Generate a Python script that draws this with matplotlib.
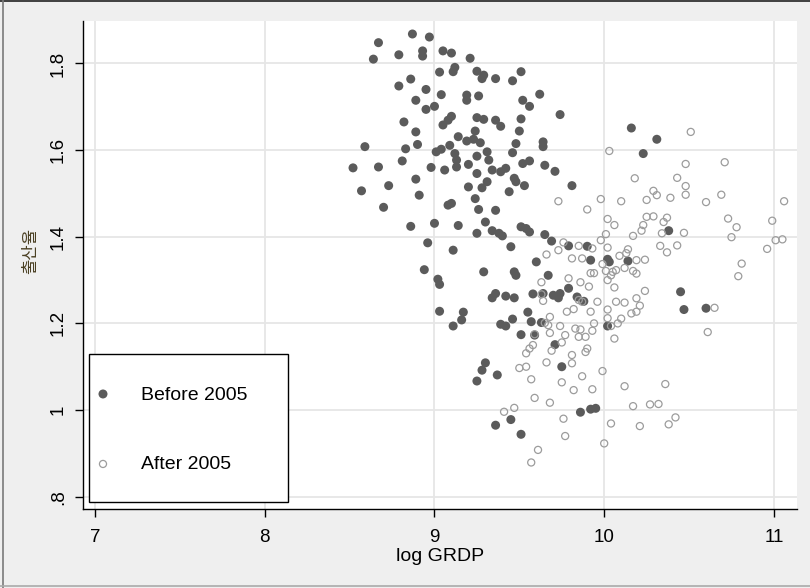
import numpy as np
import matplotlib.pyplot as plt
from matplotlib.patches import Rectangle
from matplotlib.lines import Line2D

plt.rcParams['font.family'] = ['Liberation Sans', 'DejaVu Sans']

# log GRDP vs fertility rate, regions before 2005
before_x = [8.87, 8.97, 8.67, 8.79, 8.64, 8.93, 8.93, 9.05, 9.10, 9.21,
            9.03, 9.12, 9.11, 9.25, 9.29, 9.28, 9.36, 8.86, 8.79, 8.95,
            9.04, 9.19, 9.19, 9.26, 8.89, 8.95, 9.00, 9.10, 9.08, 9.05,
            9.25, 9.29, 9.36, 8.82, 8.89, 9.24, 9.14, 9.19, 9.23, 9.27,
            8.59, 8.90, 8.83, 9.01, 9.04, 9.09, 9.12, 9.13, 9.25, 9.31,
            9.32, 8.81, 8.52, 8.67, 8.98, 9.20, 9.06, 9.13, 9.25, 8.89,
            8.73, 8.57, 8.91, 9.20, 9.28, 9.31, 9.34, 9.24, 8.70, 9.08,
            9.10, 9.26, 9.36, 8.86, 9.00, 9.14, 9.30, 9.25, 9.34, 8.96,
            9.11, 8.94, 9.29, 9.02, 9.03, 9.03, 9.17, 9.16, 9.11, 9.39,
            9.42, 9.46, 9.55, 9.57, 9.63, 9.51, 9.59, 9.71, 9.30, 9.28,
            9.25, 9.37, 9.45, 9.36, 9.51, 9.51, 9.46, 9.62, 9.52, 9.56,
            9.74, 9.39, 9.51, 9.50, 10.16, 9.64, 9.64, 9.48, 9.46, 9.52,
            9.56, 9.65, 9.71, 9.42, 10.23, 10.31, 10.38, 10.45, 10.47, 10.60,
            10.02, 9.75, 9.86, 9.92, 9.95, 9.81, 9.47, 9.48, 9.53, 9.44,
            9.39, 9.38, 9.40, 9.51, 9.54, 9.56, 9.65, 9.69, 9.79, 9.90,
            9.45, 9.92, 9.60, 10.02, 10.03, 10.14, 9.47, 9.48, 9.67, 9.36,
            9.34, 9.42, 9.47, 9.58, 9.79, 9.70, 9.74, 9.73, 9.84, 9.88,
            9.64]
before_y = [1.868, 1.861, 1.848, 1.820, 1.810, 1.829, 1.817, 1.829, 1.824, 1.812,
            1.780, 1.791, 1.781, 1.782, 1.773, 1.765, 1.765, 1.764, 1.748, 1.740,
            1.728, 1.727, 1.715, 1.725, 1.715, 1.694, 1.701, 1.678, 1.669, 1.658,
            1.675, 1.671, 1.669, 1.665, 1.642, 1.644, 1.631, 1.621, 1.625, 1.617,
            1.608, 1.613, 1.603, 1.596, 1.602, 1.611, 1.592, 1.577, 1.586, 1.596,
            1.577, 1.575, 1.559, 1.561, 1.560, 1.567, 1.554, 1.561, 1.546, 1.533,
            1.518, 1.506, 1.496, 1.515, 1.513, 1.527, 1.554, 1.488, 1.468, 1.473,
            1.477, 1.463, 1.461, 1.424, 1.431, 1.426, 1.434, 1.408, 1.414, 1.386,
            1.369, 1.324, 1.319, 1.302, 1.290, 1.228, 1.226, 1.208, 1.194, 1.198,
            1.194, 1.210, 1.226, 1.204, 1.202, 1.174, 1.173, 1.151, 1.109, 1.092,
            1.067, 1.081, 0.978, 0.965, 0.944, 1.781, 1.760, 1.729, 1.715, 1.701,
            1.682, 1.655, 1.672, 1.644, 1.651, 1.619, 1.608, 1.615, 1.594, 1.569,
            1.575, 1.565, 1.551, 1.558, 1.592, 1.625, 1.414, 1.273, 1.232, 1.235,
            1.194, 1.100, 0.995, 1.002, 1.004, 1.518, 1.535, 1.527, 1.518, 1.504,
            1.550, 1.408, 1.402, 1.423, 1.419, 1.411, 1.405, 1.390, 1.379, 1.378,
            1.377, 1.346, 1.342, 1.348, 1.342, 1.344, 1.319, 1.311, 1.311, 1.269,
            1.259, 1.263, 1.259, 1.268, 1.281, 1.265, 1.269, 1.259, 1.261, 1.251,
            1.269]

# after 2005
after_x = [10.03, 10.51, 10.48, 10.71, 10.43, 10.48, 10.29, 10.31, 10.25, 10.39,
           10.48, 10.69, 10.60, 11.06, 10.25, 10.29, 10.37, 10.35, 10.23, 10.22,
           10.34, 10.47, 10.73, 10.78, 10.99, 10.75, 10.43, 10.33, 11.01, 11.05,
           10.96, 10.37, 10.24, 10.81, 10.79, 10.24, 10.21, 10.65, 10.61, 10.18,
           9.73, 9.98, 10.10, 9.90, 10.02, 10.06, 10.01, 9.98, 10.17, 9.76,
           9.73, 9.85, 9.93, 10.02, 10.14, 10.13, 10.09, 9.66, 9.81, 9.87,
           9.99, 10.19, 9.92, 9.94, 10.01, 10.05, 10.07, 10.04, 10.12, 10.17,
           10.19, 10.02, 9.79, 9.86, 9.91, 10.06, 9.63, 9.63, 9.85, 9.87,
           9.96, 10.07, 10.12, 10.19, 9.64, 9.78, 9.82, 9.92, 10.02, 10.19,
           10.16, 10.02, 10.10, 10.08, 10.04, 10.06, 9.94, 9.74, 9.83, 9.86,
           9.93, 9.77, 9.85, 9.89, 9.68, 9.75, 9.90, 9.89, 9.81, 9.81,
           9.99, 9.87, 9.75, 9.82, 9.93, 10.12, 10.36, 9.68, 10.17, 10.27,
           10.32, 10.42, 10.38, 9.76, 10.04, 10.21, 9.77, 10.00, 9.65, 9.68,
           9.67, 9.59, 9.58, 9.56, 9.54, 9.69, 9.66, 9.50, 9.54, 9.57,
           9.59, 9.47, 9.41, 9.61, 9.57]
after_y = [1.598, 1.642, 1.568, 1.572, 1.536, 1.517, 1.506, 1.496, 1.485, 1.490,
           1.497, 1.497, 1.480, 1.482, 1.446, 1.447, 1.444, 1.434, 1.427, 1.414,
           1.408, 1.409, 1.442, 1.422, 1.437, 1.399, 1.380, 1.379, 1.392, 1.394,
           1.372, 1.364, 1.347, 1.338, 1.309, 1.275, 1.241, 1.236, 1.180, 1.535,
           1.482, 1.487, 1.482, 1.463, 1.441, 1.427, 1.406, 1.392, 1.402, 1.387,
           1.369, 1.379, 1.373, 1.375, 1.371, 1.362, 1.356, 1.359, 1.350, 1.350,
           1.337, 1.346, 1.316, 1.316, 1.321, 1.319, 1.323, 1.311, 1.328, 1.321,
           1.315, 1.300, 1.304, 1.295, 1.285, 1.283, 1.295, 1.267, 1.254, 1.250,
           1.250, 1.250, 1.248, 1.258, 1.252, 1.227, 1.233, 1.227, 1.232, 1.227,
           1.223, 1.212, 1.211, 1.200, 1.194, 1.165, 1.200, 1.194, 1.188, 1.186,
           1.183, 1.173, 1.169, 1.169, 1.178, 1.156, 1.142, 1.134, 1.127, 1.108,
           1.090, 1.078, 1.064, 1.046, 1.048, 1.055, 1.060, 1.017, 1.009, 1.013,
           1.014, 0.983, 0.967, 0.980, 0.969, 0.963, 0.940, 0.923, 1.201, 1.215,
           1.196, 1.175, 1.150, 1.142, 1.131, 1.137, 1.110, 1.097, 1.100, 1.071,
           1.028, 1.005, 0.996, 0.908, 0.879]

xticks = [7, 8, 9, 10, 11]
yticks = [0.8, 1.0, 1.2, 1.4, 1.6, 1.8]
ytick_labels = ['.8', '1', '1.2', '1.4', '1.6', '1.8']
legend_labels = ['Before 2005', 'After 2005']

fill_col = '#5b5b5b'
ring_col = '#9c9c9c'

fig = plt.figure(figsize=(8.1, 5.88), dpi=100, facecolor='#efefef')
ax = fig.add_axes([83 / 810, 1 - 509 / 588, 714 / 810, 488 / 588])
ax.set_facecolor('white')

ax.scatter(before_x, before_y, s=42, color=fill_col, edgecolors='none', zorder=3)
ax.scatter(after_x, after_y, s=26, facecolors='none', edgecolors=ring_col,
           linewidths=0.9, zorder=4)

ax.set_xlim(6.929, 11.136)
ax.set_ylim(0.7716, 1.898)
ax.set_xticks(xticks)
ax.set_yticks(yticks)
ax.set_yticklabels(ytick_labels, rotation=90, va='center')
ax.grid(True, color='#e6e6e6', linewidth=1.3, zorder=0)
ax.set_axisbelow(True)

for side in ['top', 'right']:
    ax.spines[side].set_visible(False)
for side in ['left', 'bottom']:
    ax.spines[side].set_linewidth(1.0)
    ax.spines[side].set_color('black')
ax.tick_params(axis='both', direction='out', length=5.5, width=1.0,
               labelsize=13.5, pad=6)
ax.tick_params(axis='x', pad=9)

ax.set_xlabel('log GRDP', fontsize=14, labelpad=1)
ax.set_ylabel('출산율', fontsize=12, color='#4a3f22',
              family=['Noto Sans CJK KR', 'DejaVu Sans'])
ax.yaxis.set_label_coords(-0.062, 0.529)

# legend box in the lower left corner
ax.add_patch(Rectangle((0.0084, 0.0143), 0.2787, 0.3033, transform=ax.transAxes,
                       facecolor='white', edgecolor='black', linewidth=1.0,
                       zorder=6, clip_on=False))
ax.scatter([0.028], [0.2357], s=42, color=fill_col, edgecolors='none',
           transform=ax.transAxes, zorder=7, clip_on=False)
ax.scatter([0.028], [0.0923], s=26, facecolors='none', edgecolors=ring_col,
           linewidths=0.9, transform=ax.transAxes, zorder=7, clip_on=False)
ax.text(0.0812, 0.2336, legend_labels[0], transform=ax.transAxes, fontsize=14,
        va='center', ha='left', zorder=7)
ax.text(0.0812, 0.0902, legend_labels[1], transform=ax.transAxes, fontsize=14,
        va='center', ha='left', zorder=7)

# outer graph region border
fig.add_artist(Line2D([0, 1], [0.998, 0.998], color='#222222', linewidth=1.2))
fig.add_artist(Line2D([0.004, 0.004], [0, 1], color='#7a7a7a', linewidth=1.2))
fig.add_artist(Line2D([0, 1], [0.003, 0.003], color='#aaaaaa', linewidth=1.2))

fig.savefig('out.png', dpi=100, facecolor=fig.get_facecolor())
